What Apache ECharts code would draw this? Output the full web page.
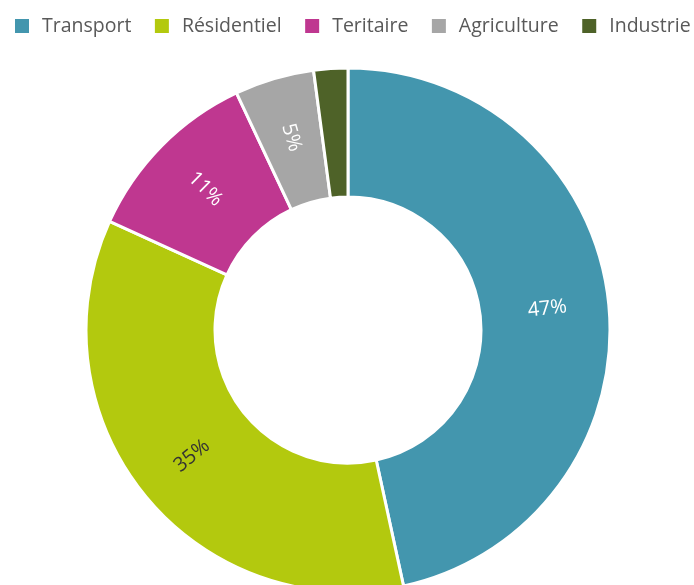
<!DOCTYPE html>
<html>
<head>
    <meta charset="utf-8">
    <title>ECharts</title>
    <script src="https://cdn.jsdelivr.net/npm/echarts@6/dist/echarts.min.js"></script>
    <style>body{margin:0;background:#fff}</style>
</head>
<body>
    <div id="main" style="width: 694px;height:585px;"></div>
    <script type="text/javascript">
        // données du graphique (parts en %)
        let secteurs = ['Transport', 'Résidentiel', 'Teritaire', 'Agriculture', 'Industrie']
        let parts = [46.6, 35.2, 11.2, 4.9, 2.1]
        let couleurs = ['#4396ae', '#b3c90e', '#bf3790', '#a6a6a6', '#4e6228']
        let couleursTexte = ['#ffffff', '#333333', '#ffffff', '#ffffff', '#ffffff']

        let myChart = echarts.init(document.getElementById('main'));

        let data = []
        for (let i = 0; i < secteurs.length; i++) {
            data.push({
                value: parts[i],
                name: secteurs[i],
                label: { color: couleursTexte[i], show: parts[i] > 3 }
            })
        }

        let option = {
            animation: false,
            color: couleurs,
            legend: {
                top: 16,
                left: 13,
                width: 681,
                padding: 0,
                itemWidth: 16,
                itemHeight: 16,
                itemGap: 21.5,
                icon: 'rect',
                textStyle: {
                    fontFamily: 'Open Sans',
                    fontSize: 19.5,
                    color: '#595959',
                    padding: [0, 0, 0, 7]
                },
                data: secteurs
            },
            series: [
                {
                    name: 'Secteurs',
                    type: 'pie',
                    center: [348, 330],
                    radius: [133, 262],
                    startAngle: 90,
                    clockwise: true,
                    itemStyle: { borderColor: '#fff', borderWidth: 3 },
                    label: {
                        position: 'inside',
                        rotate: 'radial',
                        formatter: function (p) { return Math.round(p.value) + '%' },
                        fontFamily: 'Open Sans',
                        fontSize: 20
                    },
                    labelLine: { show: false },
                    data: data
                }
            ]
        };

        myChart.setOption(option);
    </script>
</body>
</html>
